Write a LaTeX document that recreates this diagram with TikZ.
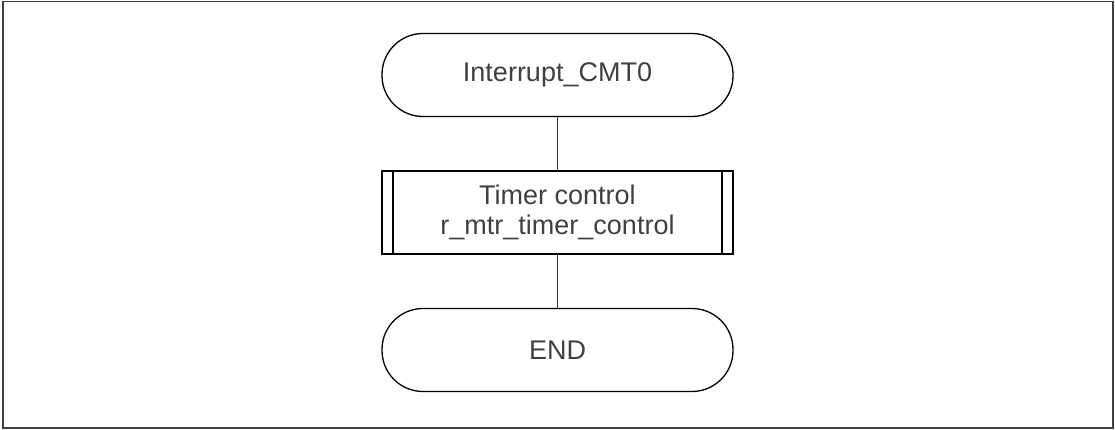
\documentclass[tikz,border=0pt]{standalone}
\usepackage{fontspec}
\setmainfont{Liberation Sans}
\usepackage{tikz}

\begin{document}
\begin{tikzpicture}[x=1pt, y=-1pt,
        term/.style={draw=black, line width=1.3pt, rounded corners=41pt, minimum width=351pt, minimum height=83pt, text=black!75, font=\fontsize{27}{30}\selectfont},
        proc/.style={draw=black, line width=2pt, minimum width=351pt, minimum height=83pt, text=black!75, align=center, font=\fontsize{27}{30}\selectfont}]
        \useasboundingbox (0, 0) rectangle (1115, 430);
        \draw[line width=1.6pt, black!75] (3, 1.5) rectangle (1113, 428);
        \node[term] (S1) at (557.5, 75) {Interrupt\_CMT0};
        \node[proc] (P1) at (557.5, 212.5) {Timer control\\r\_mtr\_timer\_control};
        \node[term] (E1) at (557.5, 350) {END};
        \draw[line width=1.3pt] ([xshift=12pt]P1.north west) to ([xshift=12pt]P1.south west);
        \draw[line width=1.3pt] ([xshift=-12pt]P1.north east) to ([xshift=-12pt]P1.south east);
        \draw[line width=0.8pt, black!80] (S1) to (P1) to (E1);
    \end{tikzpicture}
\end{document}
